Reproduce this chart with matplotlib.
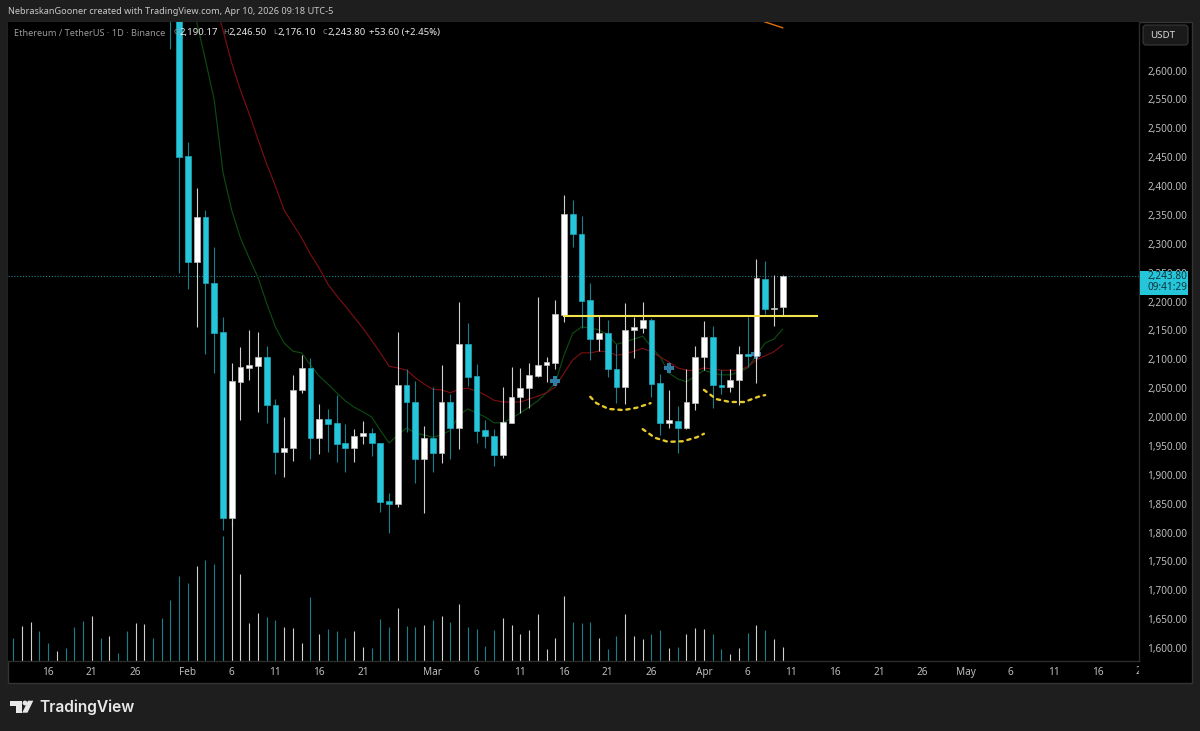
import matplotlib
matplotlib.use('Agg')
import matplotlib.pyplot as plt
import numpy as np
from matplotlib.patches import Rectangle, FancyBboxPatch, Polygon, Circle
from matplotlib.transforms import Bbox

# day offsets are counted from Feb 1
days = np.arange(-2, 69)
opens = [2950, 2820, 2452, 2268, 2346, 2232, 2147, 1825, 2061, 2085, 2088, 2104, 2021, 1939, 1946, 2047,
         2085, 1964, 1997, 1990, 1955, 1946, 1967, 1972, 1955, 1855, 1849, 2055, 2026, 1927, 1964, 1938,
         2026, 1981, 2126, 2071, 1977, 1967, 1934, 1990, 2035, 2050, 2071, 2090, 2094, 2177, 2352, 2317,
         2203, 2135, 2145, 2083, 2052, 2151, 2154, 2168, 2059, 1990, 1993, 1981, 2024, 2104, 2139, 2055,
         2052, 2064, 2109, 2106, 2239, 2187, 2190.17]
closes = [2820, 2450, 2268, 2346, 2232, 2145, 1825, 2062, 2087, 2090, 2104, 2021, 1939, 1946, 2047, 2085,
          1964, 1997, 1988, 1953, 1946, 1967, 1972, 1955, 1853, 1849, 2055, 2026, 1927, 1964, 1938, 2026,
          1981, 2126, 2069, 1976, 1967, 1934, 1991, 2035, 2050, 2073, 2090, 2095, 2178, 2352, 2317, 2201,
          2135, 2145, 2083, 2052, 2151, 2156, 2168, 2057, 1990, 1995, 1981, 2026, 2104, 2139, 2055, 2052,
          2064, 2109, 2106, 2241, 2187, 2188, 2243.8]
highs = [2960, 2850, 2476, 2397, 2358, 2294, 2173, 2094, 2121, 2151, 2147, 2123, 2031, 2000, 2073, 2107,
         2102, 2022, 2014, 2038, 1988, 1979, 1993, 1981, 1955, 1868, 2147, 2083, 2062, 1984, 2052, 2090,
         2040, 2199, 2163, 2092, 1995, 1979, 2052, 2087, 2085, 2094, 2208, 2104, 2203, 2384, 2376, 2348,
         2232, 2175, 2168, 2126, 2197, 2173, 2199, 2171, 2074, 2047, 2019, 2083, 2123, 2166, 2158, 2081,
         2083, 2123, 2173, 2274, 2270, 2246, 2246.5]
lows = [2637, 2250, 2222, 2156, 2109, 2076, 1804, 1813, 1995, 2064, 2009, 1990, 1901, 1896, 1924, 2042,
        1927, 1936, 1939, 1922, 1905, 1922, 1953, 1932, 1835, 1799, 1844, 1974, 1886, 1834, 1905, 1920,
        1927, 1945, 2054, 1955, 1946, 1915, 1929, 1990, 2007, 2016, 2069, 2061, 2083, 2165, 2294, 2154,
        2099, 2114, 2069, 2024, 2022, 2102, 2145, 2035, 1969, 1981, 1938, 1979, 2012, 2081, 2016, 2040,
        2043, 2021, 2087, 2059, 2178, 2158, 2176.1]

volume_days = np.arange(-20, 69)
volumes = [23, 35, 39, 30, 18, 10, 13, 34, 40, 45, 23, 25, 8, 30, 38, 37, 23, 43,
           61, 85, 78, 95, 101, 97, 125, 140, 87, 38, 48, 44, 41, 34, 33, 18, 64, 27,
           32, 30, 23, 30, 14, 13, 42, 34, 53, 35, 34, 36, 41, 45, 39, 57, 34, 32,
           15, 31, 43, 36, 27, 31, 47, 12, 23, 65, 39, 38, 39, 23, 12, 25, 47, 25,
           22, 27, 31, 13, 14, 27, 33, 32, 27, 12, 7, 13, 28, 36, 31, 22, 14]
# candles for the first days are left of the picture, only their volume shows
early_volume_up = [0, 1, 1, 0, 0, 1, 0, 0, 0, 1, 0, 1, 0, 0, 1, 1, 0, 0]

green_days = np.arange(1, 69)
green_ma = [2684, 2618, 2549, 2424, 2358, 2310, 2275, 2242, 2197, 2156, 2128, 2114, 2111, 2090, 2071, 2057,
            2042, 2028, 2017, 2009, 2000, 1977, 1955, 1969, 1981, 1972, 1969, 1965, 1969, 1977, 2003, 2014,
            2007, 2000, 1990, 1990, 1998, 2007, 2017, 2028, 2042, 2059, 2107, 2145, 2156, 2154, 2151, 2142,
            2126, 2130, 2135, 2140, 2121, 2104, 2076, 2066, 2061, 2071, 2081, 2076, 2073, 2073, 2078, 2085,
            2107, 2128, 2135, 2152]
red_days = np.arange(3, 69)
red_ma = [2725, 2670, 2613, 2566, 2525, 2481, 2438, 2400, 2358, 2334, 2310, 2282, 2258, 2230, 2210, 2192, 2173,
          2154, 2133, 2111, 2088, 2085, 2081, 2068, 2057, 2048, 2047, 2042, 2048, 2050, 2045, 2038, 2029,
          2026, 2026, 2026, 2031, 2036, 2042, 2052, 2076, 2099, 2111, 2111, 2114, 2113, 2107, 2109, 2114,
          2119, 2113, 2104, 2095, 2085, 2081, 2080, 2085, 2083, 2081, 2081, 2081, 2087, 2099, 2106, 2113, 2125]
orange_days = [65, 66, 67, 68]
orange_ma = [2692, 2684, 2679, 2674]

level_days = [42.9, 72]
level_price = 2175
cross_days = [42, 55, 65]
cross_prices = [2062, 2085, 2109]
arc_days = [[46, 46.7, 48.1, 49.8, 51.3, 52.9],
            [52, 53.4, 54.9, 56.6, 58.2, 59],
            [59, 60.4, 62, 63.6, 65.2, 66]]
arc_prices = [[2035, 2024, 2014, 2012, 2016, 2024],
              [1979, 1964, 1957, 1958, 1965, 1971],
              [2047, 2031, 2026, 2026, 2035, 2038]]

date_ticks = [-16, -11, -6, 0, 5, 10, 15, 20, 28, 33, 38, 43, 48, 53, 59, 64, 69, 74, 79, 84, 89, 94, 99, 104]
date_labels = ['16', '21', '26', 'Feb', '6', '11', '16', '21', 'Mar', '6', '11', '16', '21', '26',
               'Apr', '6', '11', '16', '21', '26', 'May', '6', '11', '16']
price_ticks = np.arange(1600, 2601, 50)
last_price = 2243.8

CYAN = '#26c6da'
CYAN_DIM = '#17808f'
WHITE = '#ffffff'
WHITE_DIM = '#d0d0d0'
BG = '#1e1e1e'
TICK = '#bdbdbd'
FONT = 'Noto Sans'
TEXT = 6.6
NUM = 7.2

W, H = 1200, 731
plt.rcParams['font.family'] = FONT
fig = plt.figure(figsize=(12, 7.31), dpi=100, facecolor=BG)


def box(left, top, right, bottom):
    return [left / W, 1 - bottom / H, (right - left) / W, (bottom - top) / H]


back = fig.add_axes([0, 0, 1, 1], zorder=0)
back.set_xlim(0, W)
back.set_ylim(H, 0)
back.axis('off')
back.add_patch(Rectangle((8, 22), 1184, 661, fc='black', ec='#343434', lw=1))

vol = fig.add_axes(box(8, 22, 1139, 661), zorder=1, facecolor='black')
ax = fig.add_axes(box(8, 22, 1139, 661), zorder=2)
ax.patch.set_visible(False)

xlim = (-20.58, 108.75)
ax.set_xlim(*xlim)
ax.set_ylim(1577.5, 2684)
vol.set_xlim(*xlim)
vol.set_ylim(0, 639)
vol.set_xticks([])
vol.set_yticks([])
for s in vol.spines.values():
    s.set_visible(False)

opens = np.array(opens, dtype=float)
closes = np.array(closes, dtype=float)
ups = closes >= opens

volume_up = np.concatenate([np.array(early_volume_up, dtype=bool), ups])
bars = vol.vlines(volume_days, 0, volumes, colors=[WHITE_DIM if u else CYAN_DIM for u in volume_up], lw=0.8)
bars.set_snap(True)

ax.plot(green_days, green_ma, color='#0c4a12', lw=0.85, zorder=2)
ax.plot(red_days, red_ma, color='#7a0f12', lw=0.85, zorder=2)
ax.plot(orange_days, orange_ma, color='#e0700c', lw=1, zorder=2)
ax.axhline(last_price, color='#1c7f8e', lw=0.8, ls=(0, (1, 1.6)), zorder=1)

ax.plot(cross_days, cross_prices, ls='none', marker='P', ms=7.5, mfc='#2f7ea3', mec='#2f7ea3', mew=0, zorder=2.2)

wicks = ax.vlines(days, lows, highs, colors=[WHITE_DIM if u else CYAN_DIM for u in ups], lw=0.8, zorder=3)
wicks.set_snap(True)
ax.bar(days, np.abs(closes - opens), bottom=np.minimum(opens, closes), width=0.66,
       color=[WHITE if u else CYAN for u in ups],
       edgecolor=['#bdbdbd' if u else '#1fa9bd' for u in ups], lw=0.5, zorder=4)

ax.plot(level_days, [level_price, level_price], color='#f2e24e', lw=1.5, zorder=5, solid_capstyle='butt')
for d, p in zip(arc_days, arc_prices):
    ax.plot(d, p, color='#e6c92b', lw=1.7, ls=(0, (1.4, 2.0)), dash_capstyle='round', zorder=5)

ax.yaxis.tick_right()
ax.set_yticks(price_ticks)
ax.set_yticklabels([f'{p:,.2f}' for p in price_ticks], fontsize=NUM, color=TICK)
ax.set_xticks(date_ticks)
ax.set_xticklabels(date_labels, fontsize=NUM, color=TICK)
ax.tick_params(axis='y', length=0, pad=6)
ax.tick_params(axis='x', length=0, pad=4.5)
for s in ['top', 'left']:
    ax.spines[s].set_visible(False)
for s in ['bottom', 'right']:
    ax.spines[s].set_color('#2c2c2c')
    ax.spines[s].set_linewidth(1)

front = fig.add_axes([0, 0, 1, 1], zorder=5)
front.set_xlim(0, W)
front.set_ylim(H, 0)
front.axis('off')
front.patch.set_visible(False)

# this date label is cut by the price scale
cut = front.text(1141, 672, '21', fontsize=NUM, color=TICK, ha='center', va='center')
cut.set_clip_box(Bbox.from_extents(8, 0, 1139, H))
cut.set_clip_on(True)

front.text(8, 12, 'NebraskanGooner created with TradingView.com, Apr 10, 2026 09:18 UTC-5',
           fontsize=TEXT, color='#c8c8c8', va='center')
front.text(14, 33, 'Ethereum / TetherUS · 1D · Binance', fontsize=TEXT, color='#9a9a9a', va='center')
for x, t in [(179, 'O'), (228.5, 'H'), (277.5, 'L'), (327.5, 'C')]:
    front.text(x, 33, t, fontsize=5.2, color='#9a9a9a', va='center', ha='right')
for x, t in [(179, '2,190.17'), (228.5, '2,246.50'), (277.5, '2,176.10'), (327.5, '2,243.80'), (369, '+53.60 (+2.45%)')]:
    front.text(x, 33, t, fontsize=6.9, color='#e6e6e6', va='center')

front.add_patch(FancyBboxPatch((1143, 25), 45, 20, boxstyle='round,pad=0,rounding_size=3', fc='#1a1a1a', ec='#3a3a3a', lw=0.8))
front.text(1150, 35.5, 'USDT', fontsize=7, color='#d8d8d8', va='center')

front.add_patch(Rectangle((1140, 271), 48, 24, fc=CYAN, ec='none'))
front.text(1147, 276.5, '2,243.80', fontsize=NUM, color='#10333a', va='center')
front.text(1147, 287.5, '09:41:29', fontsize=NUM, color='#10333a', va='center')

# logo
logo = '#e8e8e8'
front.add_patch(Polygon([(9.5, 700.7), (21.7, 700.7), (21.7, 712.7), (16, 712.7), (16, 705.5), (9.5, 705.5)], fc=logo, ec='none'))
front.add_patch(Circle((25, 703), 2.4, fc=logo, ec='none'))
front.add_patch(Polygon([(28, 700.7), (33.3, 700.7), (27.5, 712.7), (22.2, 712.7)], fc=logo, ec='none'))
front.text(39, 707, 'TradingView', fontsize=11.2, color=logo, va='center', fontweight='semibold', family='Inter')

fig.savefig('out.png', dpi=100, facecolor=BG)
